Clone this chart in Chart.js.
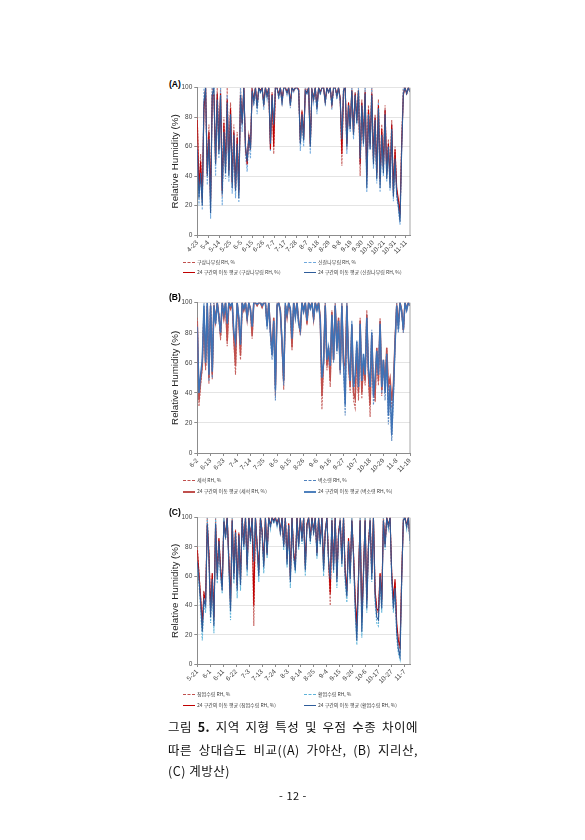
<!DOCTYPE html>
<html>
<head>
<meta charset="utf-8">
<script src="https://cdn.jsdelivr.net/npm/chart.js@4.4.0/dist/chart.umd.min.js"></script>
<style>
body { margin: 0; background: #fff; }
#page { position: relative; width: 585px; height: 840px; background: #fff; overflow: hidden; font-family: "Noto Sans CJK KR", sans-serif; }
.box { position: absolute; }
.tag { position: absolute; font: bold 8.5px "Liberation Sans", Arial, sans-serif; color: #000; line-height: 10px; }
.leg { position: absolute; font-size: 5px; line-height: 8px; color: #404040; white-space: nowrap; }
.leg i { display: inline-block; width: 12px; height: 0; vertical-align: middle; margin-right: 2px; }
.cap { position: absolute; left: 168px; width: 250px; font-size: 12.5px; line-height: 16px; color: #111; letter-spacing: 0.5px; white-space: nowrap; }
.just { text-align: justify; text-align-last: justify; }
</style>
</head>
<body>
<div id="page">
  <div class="tag" style="left:169px;top:79px">(A)</div>
  <div class="box" style="left:150px;top:78px;width:270px;height:185px"><canvas id="chartA"></canvas></div>
  <div class="leg" style="left:183px;top:258px"><i style="border-top:1px dashed #c0504d"></i>구상나무림 RH, %</div>
  <div class="leg" style="left:304px;top:258px"><i style="border-top:1px dashed #6fa8dc"></i>신갈나무림 RH, %</div>
  <div class="leg" style="left:183px;top:268px"><i style="border-top:1.5px solid #c00000"></i>24 구간의 이동 평균 (구상나무림 RH, %)</div>
  <div class="leg" style="left:304px;top:268px"><i style="border-top:1.5px solid #2e5c9a"></i>24 구간의 이동 평균 (신갈나무림 RH, %)</div>

  <div class="tag" style="left:169px;top:292px">(B)</div>
  <div class="box" style="left:150px;top:293px;width:270px;height:188px"><canvas id="chartB"></canvas></div>
  <div class="leg" style="left:183px;top:476px"><i style="border-top:1px dashed #c0504d"></i>세석 RH, %</div>
  <div class="leg" style="left:304px;top:476px"><i style="border-top:1px dashed #4f81bd"></i>벽소령 RH, %</div>
  <div class="leg" style="left:183px;top:487px"><i style="border-top:2px solid #c0504d"></i>24 구간의 이동 평균 (세석 RH, %)</div>
  <div class="leg" style="left:304px;top:487px"><i style="border-top:2px solid #4f81bd"></i>24 구간의 이동 평균 (벽소령 RH, %)</div>

  <div class="tag" style="left:169px;top:507px">(C)</div>
  <div class="box" style="left:150px;top:508px;width:270px;height:184px"><canvas id="chartC"></canvas></div>
  <div class="leg" style="left:183px;top:690px"><i style="border-top:1px dashed #c0504d"></i>침엽수림 RH, %</div>
  <div class="leg" style="left:304px;top:690px"><i style="border-top:1px dashed #5db3d9"></i>활엽수림 RH, %</div>
  <div class="leg" style="left:183px;top:701px"><i style="border-top:1.5px solid #c00000"></i>24 구간의 이동 평균 (침엽수림 RH, %)</div>
  <div class="leg" style="left:304px;top:701px"><i style="border-top:1.5px solid #2e5c9a"></i>24 구간의 이동 평균 (활엽수림 RH, %)</div>

  <div class="cap just" style="top:719px">그림 <b>5.</b> 지역 지형 특성 및 우점 수종 차이에</div>
  <div class="cap just" style="top:742px">따른 상대습도 비교((A) 가야산, (B) 지리산,</div>
  <div class="cap" style="top:763px">(C) 계방산)</div>
  <div class="cap" style="top:787px;text-align:center;font-size:11px">- 12 -</div>
</div>

<script>
// tick labels (dates) for each panel
const datesA = ['4-23','5-4','5-14','5-25','6-5','6-15','6-26','7-7','7-17','7-28','8-7','8-18','8-29','9-8','9-19','9-30','10-10','10-21','10-31','11-11'];
const datesB = ['6-2','6-13','6-23','7-4','7-14','7-25','8-5','8-15','8-26','9-6','9-16','9-27','10-7','10-18','10-29','11-8','11-19'];
const datesC = ['5-21','6-1','6-11','6-22','7-3','7-13','7-24','8-3','8-14','8-25','9-4','9-15','9-26','10-6','10-17','10-27','11-7'];

// (A) 가야산 - RH %
const aFir = [80,30,55,22,90,100,40,75,22,100,
  96,48,100,58,100,26,80,45,100,42,
  90,35,75,30,70,28,100,75,100,58,
  50,68,60,100,92,100,86,100,98,100,
  88,100,95,100,62,97,55,100,100,95,
  100,90,100,100,97,100,88,100,98,100,
  100,99,62,85,65,100,97,100,60,100,
  92,100,86,100,96,100,100,90,100,97,
  100,88,100,100,94,100,92,47,100,100,
  58,90,72,100,68,97,78,100,40,92,
  63,100,35,88,60,100,50,82,40,92,
  35,75,45,88,40,65,35,78,28,60,
  30,22,12,65,100,100,96,100,97];
const aOak = [62,20,45,17,100,100,34,70,11,100,
  100,40,96,52,100,20,72,38,95,36,
  85,28,70,25,65,22,100,70,100,54,
  43,63,52,100,88,100,82,100,96,100,
  85,100,92,100,57,95,70,100,100,92,
  100,88,100,100,95,100,86,100,97,100,
  100,98,57,80,60,100,96,100,55,100,
  90,100,82,100,95,100,100,88,100,96,
  100,85,100,100,92,100,90,60,100,100,
  55,88,70,100,65,96,75,100,48,90,
  60,100,29,85,58,100,45,80,35,90,
  29,70,40,85,36,62,30,75,23,55,
  25,18,7,60,100,100,95,100,97];
const aFirAvg = [78,32,50,25,85,100,42,70,24,95,
  95,50,96,58,96,30,76,46,92,44,
  86,36,70,32,66,30,95,76,100,60,
  48,68,58,98,92,100,88,100,98,100,
  90,100,95,100,58,96,60,100,100,95,
  100,92,100,100,97,100,90,100,98,100,
  100,99,64,84,66,98,97,100,62,98,
  93,100,87,100,97,100,100,91,100,97,
  100,89,100,100,95,100,93,55,98,100,
  62,90,74,98,70,96,78,98,48,90,
  64,97,40,85,62,96,52,80,42,88,
  38,72,46,85,42,62,38,75,30,58,
  32,24,14,62,95,100,96,100,98];
const aOakAvg = [58,25,42,20,90,100,40,65,15,95,
  100,48,92,55,95,28,70,42,90,40,
  82,32,68,30,62,25,95,75,100,60,
  50,66,58,98,90,100,86,100,97,100,
  88,100,94,100,62,95,75,100,100,94,
  100,90,100,100,96,100,88,100,98,100,
  100,98,62,82,64,98,96,100,60,98,
  92,100,85,100,96,100,100,90,100,97,
  100,88,100,100,94,100,92,65,98,100,
  60,88,72,98,68,95,76,98,52,88,
  62,96,32,82,58,95,48,78,38,86,
  32,68,42,82,38,60,32,72,26,52,
  28,20,9,58,96,100,96,100,97];

// (B) 지리산
const bSeseok = [90,31,45,57,95,55,100,46,100,49,
  100,88,100,92,75,100,90,100,71,100,
  96,100,75,52,100,88,62,100,95,100,
  88,100,96,76,100,100,98,100,100,97,
  100,100,85,100,80,65,90,38,100,100,
  95,70,42,100,90,100,95,68,100,92,
  100,88,78,100,95,100,85,100,97,100,
  88,100,96,100,90,29,60,100,55,70,
  44,95,62,100,70,90,53,100,60,55,
  100,60,40,85,35,30,70,35,90,36,
  60,45,95,50,24,80,40,34,70,45,
  90,38,60,42,70,40,45,30,40,75,
  100,85,100,95,80,100,96,100,98];
const bByeokso = [85,36,50,60,100,58,100,48,100,50,
  100,85,100,90,78,100,92,100,85,100,
  98,100,78,72,100,90,70,100,96,100,
  90,100,95,82,100,100,99,100,100,98,
  100,100,82,100,78,62,88,35,100,100,
  94,72,45,100,92,100,96,75,100,90,
  100,85,80,100,94,100,88,100,96,100,
  90,100,95,100,88,45,58,100,60,68,
  55,92,60,100,66,88,52,100,58,25,
  100,62,45,88,40,50,75,40,88,45,
  65,50,92,55,40,82,32,48,68,50,
  88,40,62,35,66,19,42,8,35,72,
  100,80,100,94,80,100,95,100,98];
const bSeseokAvg = [88,35,48,58,92,58,98,50,98,52,
  98,88,100,92,78,100,90,100,74,100,
  96,100,76,58,100,88,65,100,95,100,
  89,100,96,78,100,100,98,100,100,97,
  100,100,86,100,82,68,90,45,98,100,
  95,72,48,98,90,100,95,70,100,92,
  100,88,80,100,95,100,86,100,97,100,
  89,100,96,100,90,38,62,98,58,70,
  48,94,62,98,70,90,55,98,60,58,
  98,60,44,84,40,36,70,40,88,40,
  60,48,92,52,32,78,44,38,70,48,
  88,42,62,45,70,45,50,35,45,75,
  98,86,100,95,82,100,96,100,98];
const bByeoksoAvg = [84,40,52,62,98,60,100,52,98,54,
  98,86,100,90,80,100,92,100,86,100,
  98,100,80,74,100,90,72,100,96,100,
  90,100,95,84,100,100,99,100,100,98,
  100,100,84,100,80,65,88,42,98,100,
  94,74,48,98,92,100,96,76,100,90,
  100,86,82,100,94,100,88,100,96,100,
  90,100,95,100,88,50,60,98,62,70,
  58,92,62,98,68,88,55,98,60,32,
  98,64,48,86,44,52,74,44,86,48,
  66,52,90,56,44,80,38,50,68,52,
  86,44,62,40,66,25,45,12,40,72,
  98,82,100,94,82,100,95,100,98];

// (C) 계방산
const cConifer = [80,62,45,25,50,44,100,76,36,62,
  30,100,62,86,66,54,100,88,100,72,
  40,100,62,92,52,90,56,100,82,100,
  66,100,86,100,26,100,82,62,100,90,
  68,100,75,100,95,100,98,100,96,100,
  90,100,82,100,70,96,58,100,76,66,
  100,82,100,86,100,66,96,100,86,100,
  90,100,76,100,84,100,66,90,100,72,
  40,100,68,100,58,90,100,70,100,62,
  48,86,60,100,76,44,22,60,100,28,
  62,100,42,82,100,62,100,50,36,34,
  62,42,100,82,100,94,100,62,42,56,
  26,14,10,60,100,100,94,100,85];
const cBroadleaf = [65,55,38,16,42,35,100,70,28,55,
  21,100,55,82,60,48,100,85,100,65,
  30,100,55,90,45,88,50,100,78,100,
  60,100,82,100,68,100,78,56,100,88,
  62,100,72,100,92,100,96,100,94,100,
  88,100,78,100,66,94,52,100,72,62,
  100,78,100,82,100,60,94,100,82,100,
  88,100,72,100,80,100,60,88,100,68,
  56,100,62,100,52,88,100,66,100,56,
  42,82,55,100,72,36,13,55,100,18,
  58,100,35,78,100,56,100,42,28,26,
  58,35,100,78,100,92,100,56,35,50,
  18,7,3,55,100,100,92,100,82];
const cConiferAvg = [78,62,46,28,48,44,95,76,38,62,
  32,95,62,86,66,54,97,88,100,72,
  42,98,62,91,54,89,58,100,82,100,
  68,100,86,100,40,100,82,64,100,91,
  70,100,76,100,95,100,98,100,96,100,
  91,100,82,100,72,96,60,100,76,68,
  100,82,100,86,100,68,96,100,86,100,
  91,100,76,100,84,100,68,91,100,72,
  48,98,68,100,60,90,98,72,100,64,
  50,86,62,98,76,46,26,60,98,32,
  64,98,44,82,98,62,100,50,38,36,
  62,44,98,82,100,95,100,62,44,58,
  28,16,12,60,98,100,95,100,86];
const cBroadleafAvg = [70,58,42,22,44,40,96,72,32,58,
  26,96,58,84,62,50,98,86,100,68,
  36,98,58,90,50,88,54,100,80,100,
  64,100,84,100,70,100,80,60,100,90,
  66,100,74,100,94,100,97,100,95,100,
  90,100,80,100,68,95,56,100,74,64,
  100,80,100,84,100,64,95,100,84,100,
  90,100,74,100,82,100,64,90,100,70,
  58,98,64,100,56,88,98,68,100,60,
  46,84,58,98,74,40,16,56,98,22,
  60,98,38,80,98,58,100,46,32,30,
  60,38,98,80,100,94,100,60,38,52,
  22,10,5,58,98,100,94,100,84];

// light grey right edge of the plot area
const frameRight = {
  id: 'frameRight',
  afterDatasetsDraw(chart) {
    const a = chart.chartArea;
    const c = chart.ctx;
    c.save();
    c.strokeStyle = '#a6a6a6';
    c.lineWidth = 1;
    c.beginPath();
    c.moveTo(a.right, a.top);
    c.lineTo(a.right, a.bottom);
    c.stroke();
    c.restore();
  }
};

function toXY(arr) {
  return arr.map((v, i) => ({ x: i, y: v }));
}

function rhChart(canvasId, dates, tickStep, raw1, raw2, avg1, avg2, colors, avgWidth) {
  const ctx = document.getElementById(canvasId);
  const last = raw1.length - 1;
  const tickFont = { family: 'Liberation Sans', size: 6.5 };

  new Chart(ctx, {
    type: 'line',
    data: {
      datasets: [{
        data: toXY(raw1), borderColor: colors[0], borderWidth: 1.1, borderDash: [2, 1.2], order: 3
      }, {
        data: toXY(raw2), borderColor: colors[1], borderWidth: 1.1, borderDash: [2, 1.2], order: 2
      }, {
        data: toXY(avg1), borderColor: colors[2], borderWidth: avgWidth, order: 1
      }, {
        data: toXY(avg2), borderColor: colors[3], borderWidth: avgWidth, order: 0
      }]
    },
    options: {
      animation: false,
      responsive: true,
      maintainAspectRatio: false,
      layout: { padding: { top: 9.7, right: 10, left: 0, bottom: 0 } },
      elements: { point: { radius: 0 }, line: { tension: 0 } },
      plugins: { legend: { display: false }, tooltip: { enabled: false } },
      scales: {
        x: {
          type: 'linear', min: 0, max: last,
          afterBuildTicks: (s) => { s.ticks = dates.map((d, k) => ({ value: k * tickStep })); },
          afterFit: (s) => { s.height = 28; },
          ticks: {
            autoSkip: false, minRotation: 45, maxRotation: 45, padding: 1,
            font: tickFont, color: '#404040',
            callback: (v, k) => dates[k]
          },
          grid: { drawOnChartArea: false, drawTicks: true, tickLength: 3, tickColor: '#8c8c8c' },
          border: { color: '#8c8c8c' }
        },
        y: {
          min: 0, max: 100,
          afterFit: (s) => { s.width = 47.3; },
          ticks: { stepSize: 20, padding: 2, font: tickFont, color: '#404040' },
          grid: { color: '#e4e4e4', tickColor: '#8c8c8c', tickLength: 3 },
          border: { color: '#8c8c8c' },
          title: {
            display: true, text: 'Relative Humidity (%)', color: '#262626',
            font: { family: 'Liberation Sans', size: 9.8 }, padding: { top: 19, bottom: 0 }
          }
        }
      }
    },
    plugins: [frameRight]
  });
}

rhChart('chartA', datesA, 6.61, aFir, aOak, aFirAvg, aOakAvg,
  ['rgba(192,80,77,0.9)', 'rgba(111,168,220,0.95)', '#c00000', '#2e5c9a'], 1.1);
rhChart('chartB', datesB, 8, bSeseok, bByeokso, bSeseokAvg, bByeoksoAvg,
  ['rgba(192,80,77,0.9)', 'rgba(79,129,189,0.9)', '#c0504d', '#3f72b5'], 1.5);
rhChart('chartC', datesC, 7.8, cConifer, cBroadleaf, cConiferAvg, cBroadleafAvg,
  ['rgba(192,80,77,0.9)', 'rgba(93,179,217,0.95)', '#c00000', '#2e5c9a'], 1.1);
</script>
</body>
</html>
